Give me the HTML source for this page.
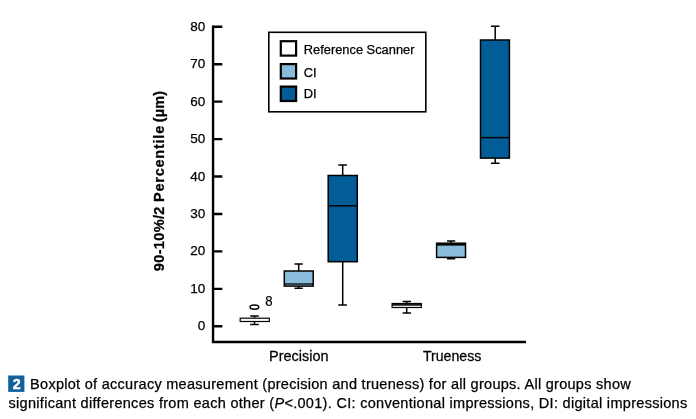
<!DOCTYPE html>
<html><head><meta charset="utf-8">
<style>
html,body{margin:0;padding:0;background:#fff;}
body{width:696px;height:419px;overflow:hidden;position:relative;font-family:"Liberation Sans",sans-serif;color:#111;}
svg{position:absolute;left:0;top:0;}
svg text{font-family:"Liberation Sans",sans-serif;fill:#000;stroke:#000;stroke-width:0.25px;}
.cap{position:absolute;left:0;white-space:nowrap;font-size:14.5px;line-height:19px;color:#000;letter-spacing:0.28px;-webkit-text-stroke:0.25px #000;}
#l1{left:30.1px;top:374.8px;}
#l2{left:8.5px;top:393.8px;letter-spacing:0.30px;}
</style></head><body>
<svg width="696" height="419" viewBox="0 0 696 419">
<!-- axes -->
<g stroke="#000" stroke-width="2.4" fill="none" stroke-linecap="butt">
<path d="M213.05 25.5 V343.2 M212 342 H526"/>
<path d="M213 26.7 H222.3 M213 64.2 H222.3 M213 101.6 H222.3 M213 139.1 H222.3 M213 176.5 H222.3 M213 214 H222.3 M213 251.4 H222.3 M213 288.9 H222.3 M213 326.3 H222.3"/>
</g>
<!-- y tick labels -->
<g font-size="13.5" text-anchor="end">
<text x="205.3" y="30.7">80</text>
<text x="205.3" y="68.2">70</text>
<text x="205.3" y="105.6">60</text>
<text x="205.3" y="143.1">50</text>
<text x="205.3" y="180.5">40</text>
<text x="205.3" y="218.0">30</text>
<text x="205.3" y="255.4">20</text>
<text x="205.3" y="292.9">10</text>
<text x="205.3" y="330.3">0</text>
</g>
<!-- y title -->
<text transform="translate(163.9 271.2) rotate(-90)" font-size="14.5" font-weight="bold" letter-spacing="0.35" stroke="none">90-10%/2 <tspan letter-spacing="0.76">Percentile</tspan><tspan dx="-1.3" letter-spacing="0.1"> (µm)</tspan></text>
<!-- legend -->
<rect x="268.8" y="32.3" width="157" height="79.5" fill="#fff" stroke="#000" stroke-width="1.6"/>
<g stroke="#000" stroke-width="2.2">
<rect x="280.8" y="41.2" width="15.3" height="14.4" fill="#fff"/>
<rect x="280.8" y="64.1" width="15.3" height="14.4" fill="#89bcda"/>
<rect x="280.8" y="86.6" width="15.3" height="14.4" fill="#025c98"/>
</g>
<g font-size="12.85">
<text x="303.8" y="54">Reference Scanner</text>
<text x="303.8" y="76.9">CI</text>
<text x="303.8" y="98.4">DI</text>
</g>
<!-- boxes -->
<g stroke="#000" stroke-width="1.5" fill="none">
<!-- Precision: reference -->
<path d="M254.5 316 V317.7 M254.5 322 V324.6 M250.2 316 H258.8 M250.2 324.6 H258.8"/>
<rect x="240.2" y="318.2" width="29.1" height="3.3" fill="#fff" stroke-width="1.2"/>
<ellipse cx="254.4" cy="307.1" rx="4.4" ry="2.2"/>
<!-- Precision: CI -->
<path d="M298.7 264.1 V271 M298.7 286 V288.2 M294.5 264.1 H302.8 M294.5 288.2 H302.8"/>
<rect x="284.3" y="271" width="28.9" height="15.1" fill="#89bcda"/>
<path d="M284.3 284 H313.2" stroke-width="1.3"/>
<!-- Precision: DI -->
<path d="M342.7 164.9 V175.5 M342.7 261.7 V305.1 M338.3 164.9 H346.9 M338.3 305.1 H346.9"/>
<rect x="328.2" y="175.5" width="29.1" height="86.2" fill="#025c98"/>
<path d="M328.2 205.8 H357.3"/>
<!-- Trueness: reference -->
<path d="M406.7 301.6 V303 M406.7 308 V313 M402.6 301.6 H411 M402.6 313 H411"/>
<rect x="392.1" y="303.5" width="29.2" height="4" fill="#fff" stroke-width="1.2"/>
<path d="M392.1 304.9 H421.3" stroke-width="1.6"/>
<!-- Trueness: CI -->
<path d="M451 241 V243 M451 257.4 V258.7 M447 241 H455.2 M447 258.7 H455.2"/>
<rect x="436.6" y="243.2" width="28.9" height="14.2" fill="#89bcda"/>
<path d="M436.6 244.6 H465.5" stroke-width="2"/>
<!-- Trueness: DI -->
<path d="M495.2 26.3 V40 M495.2 158.1 V163.3 M490.9 26.3 H499.5 M490.9 163.3 H499.5"/>
<rect x="480.5" y="40" width="28.9" height="118.1" fill="#025c98"/>
<path d="M480.5 137.6 H509.4"/>
</g>
<text transform="translate(268.9 305.6) scale(0.9 1)" text-anchor="middle" font-size="14.6">8</text>
<rect x="8.2" y="375.5" width="16.2" height="16.4" fill="#12609c"/>
<text x="16.65" y="388.6" font-size="14.3" font-weight="bold" text-anchor="middle" style="fill:#fff;stroke:#fff;stroke-width:0.4px">2</text>
<!-- x labels -->
<g font-size="14.5" text-anchor="middle">
<text transform="translate(298.8 360.9) scale(1 1.03)">Precision</text>
<text transform="translate(452.1 360.9) scale(0.975 1.03)">Trueness</text>
</g>
</svg>
<div class="cap" id="l1">Boxplot of accuracy measurement (precision and trueness) for all groups. All groups show</div>
<div class="cap" id="l2">significant differences from each other (<i>P</i>&lt;.001). CI: conventional impressions, DI: digital impressions</div>
</body></html>
